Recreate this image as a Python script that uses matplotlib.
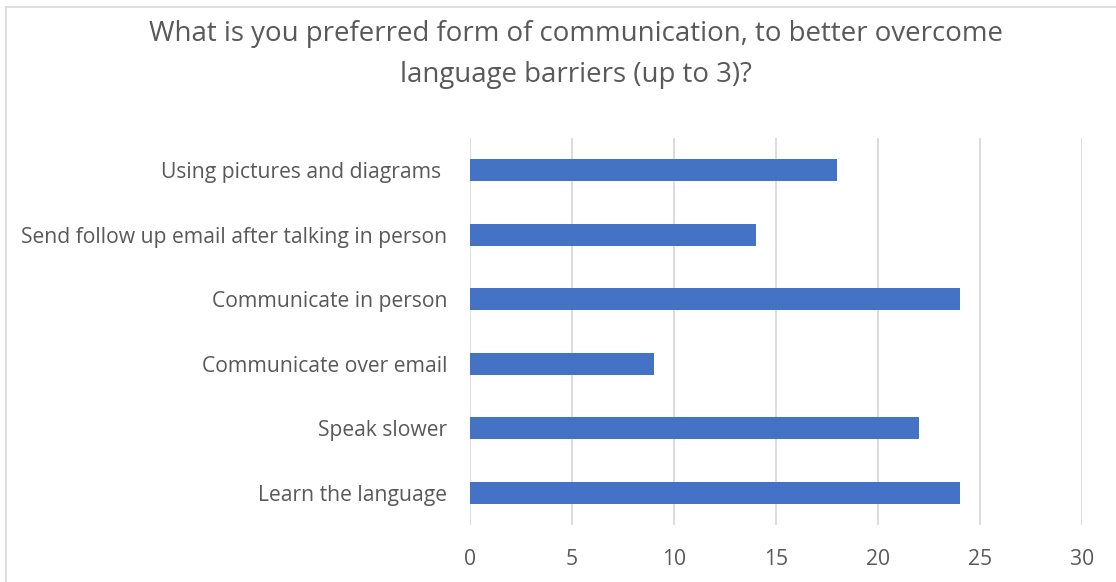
import matplotlib
matplotlib.use("Agg")
import matplotlib.pyplot as plt
from matplotlib.lines import Line2D

categories = [
    "Learn the language",
    "Speak slower",
    "Communicate over email",
    "Communicate in person",
    "Send follow up email after talking in person",
    "Using pictures and diagrams ",
]
responses = [24, 22, 9, 24, 14, 18]
x_ticks = [0, 5, 10, 15, 20, 25, 30]
title = "What is you preferred form of communication, to better overcome\nlanguage barriers (up to 3)?"

BAR = "#4472C4"
TEXT = "#595959"
GRID = "#D9D9D9"

plt.rcParams["font.family"] = ["Open Sans", "DejaVu Sans"]

fig = plt.figure(figsize=(11.16, 5.82), dpi=100)
W, H = 1116, 582
ax = fig.add_axes([470 / W, 1 - 525 / H, (1082 - 470) / W, (525 - 138) / H])

y = range(len(categories))
ax.barh(y, responses, height=0.34, color=BAR, zorder=3)
ax.set_xlim(0, 30)
ax.set_ylim(-0.5, len(categories) - 0.5)
ax.set_xticks(x_ticks)
ax.set_xticklabels([str(t) for t in x_ticks])
ax.set_yticks(list(y))
ax.set_yticklabels(categories)
ax.grid(axis="x", color=GRID, linewidth=1.3, zorder=0)
ax.grid(axis="y", visible=False)
for s in ax.spines.values():
    s.set_visible(False)
ax.tick_params(axis="both", length=0, colors=TEXT, labelsize=15.2)
ax.tick_params(axis="y", pad=16.5)
ax.tick_params(axis="x", pad=17)

fig.text(576 / W, 1 - 54.5 / H, title, ha="center", va="center",
         fontsize=19.9, color=TEXT, linespacing=1.6)

# chart frame (left and top edges)
fig.add_artist(Line2D([6 / W, 6 / W], [0, 1 - 7 / H], transform=fig.transFigure,
                      color=GRID, linewidth=1.2))
fig.add_artist(Line2D([6 / W, 1], [1 - 7 / H, 1 - 7 / H], transform=fig.transFigure,
                      color=GRID, linewidth=1.2))

fig.savefig("out.png", dpi=100, facecolor="white")
